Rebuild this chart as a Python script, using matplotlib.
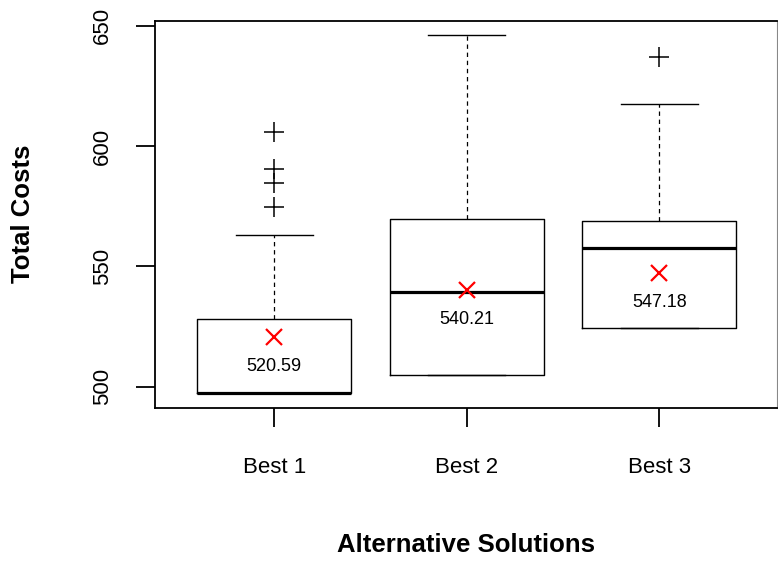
import matplotlib.pyplot as plt

plt.rcParams["font.family"] = ["Liberation Sans", "DejaVu Sans"]

# summary statistics per alternative solution
labels = ["Best 1", "Best 2", "Best 3"]
whisker_low = [497.3, 505.0, 524.4]
q1 = [497.3, 505.0, 524.4]
medians = [497.3, 539.2, 557.5]
q3 = [528.3, 569.9, 568.8]
whisker_high = [563.1, 646.2, 617.4]
outliers = [[605.8, 590.4, 584.7, 574.8], [], [637.2]]
means = [520.59, 540.21, 547.18]


def main():
    stats = []
    for i, name in enumerate(labels):
        stats.append({
            "label": name,
            "whislo": whisker_low[i],
            "q1": q1[i],
            "med": medians[i],
            "q3": q3[i],
            "whishi": whisker_high[i],
            "fliers": outliers[i],
        })

    fig = plt.figure(figsize=(7.78, 5.62), dpi=100)
    ax = fig.add_axes([155 / 778, 1 - 408 / 562, 622.3 / 778, 387.3 / 562])

    pos = [1, 2, 3]
    ax.bxp(
        stats,
        positions=pos,
        widths=0.8,
        capwidths=0.4,
        showfliers=True,
        boxprops=dict(color="black", linewidth=1.0),
        medianprops=dict(color="black", linewidth=2.3),
        whiskerprops=dict(color="black", linewidth=0.9, linestyle=(0, (3.5, 3))),
        capprops=dict(color="black", linewidth=1.0),
        flierprops=dict(marker="+", markersize=15, markeredgewidth=1.1,
                        markeredgecolor="black", linestyle="none"),
    )

    # means with their values written underneath
    ax.plot(pos, means, linestyle="none", marker="x", color="red",
            markersize=11, markeredgewidth=1.6, zorder=5)
    for x, m in zip(pos, means):
        ax.annotate(f"{m:.2f}", (x, m), xytext=(0, -21), textcoords="offset points",
                    ha="center", va="center", fontsize=13)

    ax.set_xlim(0.381, 3.612)
    ax.set_ylim(491.15, 652.1)
    ax.set_xticks(pos)
    ax.set_xticklabels(labels)
    ax.set_yticks([500, 550, 600, 650])

    ax.tick_params(axis="both", length=14, width=1.3, labelsize=16, color="black")
    ax.tick_params(axis="x", pad=21)
    ax.tick_params(axis="y", pad=16)
    for t in ax.get_yticklabels():
        t.set_rotation(90)
        t.set_va("center")

    for side in ["left", "top", "bottom"]:
        ax.spines[side].set_linewidth(1.3)
    ax.spines["right"].set_linewidth(0.8)
    ax.spines["right"].set_color("#888888")

    fig.text(23 / 778, 1 - 214 / 562, "Total Costs", rotation=90, ha="center",
             va="center", fontsize=18.5, fontweight="bold")
    fig.text(466 / 778, 1 - 545 / 562, "Alternative Solutions", ha="center",
             va="center", fontsize=18.5, fontweight="bold")

    fig.savefig("out.png", dpi=100)


if __name__ == "__main__":
    main()
